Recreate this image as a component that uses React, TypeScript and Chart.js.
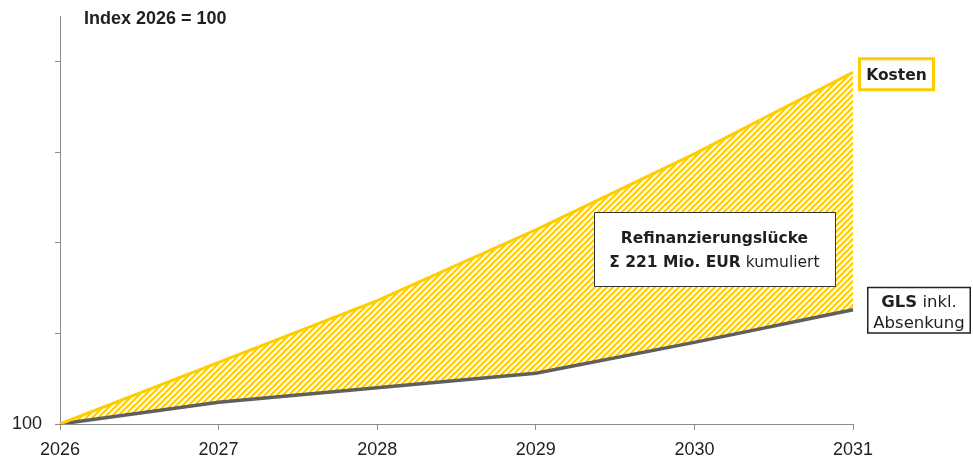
import React, { useEffect, useRef } from 'react';
import { Chart, registerables } from 'chart.js';

Chart.register(...registerables);

const years = ['2026', '2027', '2028', '2029', '2030', '2031'];
const kosten = [100, 103.4, 106.8, 110.7, 114.9, 119.4];
const gls = [100, 101.2, 102.0, 102.8, 104.5, 106.3];
const yMin = 100;
const yMax = 122.5;
const yStep = 5;
const yLabelValues = [100];
const titleText = 'Index 2026 = 100';
const kostenLabel = 'Kosten';
const glsLabelBold = 'GLS';
const glsLabelRest = ' inkl.';
const glsLabelLine2 = 'Absenkung';
const gapLine1 = 'Refinanzierungslücke';
const gapLine2Bold = 'Σ 221 Mio. EUR';
const gapLine2Rest = ' kumuliert';

const YELLOW = '#FFCC00';
const GRAY_LINE = '#5f5f5f';
const AXIS = '#8c8c8c';
const TEXT = '#1f1f1f';
const BOX_FONT = '"DejaVu Sans", "Noto Sans", sans-serif';

function makePattern(): CanvasPattern | string {
  const s = 6;
  const c = document.createElement('canvas');
  c.width = s;
  c.height = s;
  const g = c.getContext('2d');
  if (!g) return YELLOW;
  g.strokeStyle = YELLOW;
  g.lineWidth = 2.2;
  g.beginPath();
  g.moveTo(0, s);
  g.lineTo(s, 0);
  g.moveTo(-s / 2, s / 2);
  g.lineTo(s / 2, -s / 2);
  g.moveTo(s / 2, s + s / 2);
  g.lineTo(s + s / 2, s / 2);
  g.stroke();
  const p = g.createPattern(c, 'repeat');
  return p || YELLOW;
}

const annotations = {
  id: 'annotations',
  afterDraw(chart: any) {
    const { ctx, chartArea, scales } = chart;
    const x = scales.x;
    const y = scales.y;
    const last = years.length - 1;
    const xe = x.getPixelForValue(last);
    const yk = y.getPixelForValue(kosten[last]);
    const yg = y.getPixelForValue(gls[last]);
    ctx.save();

    // title
    ctx.fillStyle = TEXT;
    ctx.font = 'bold 18px "Liberation Sans", Arial, sans-serif';
    ctx.textAlign = 'left';
    ctx.textBaseline = 'alphabetic';
    ctx.fillText(titleText, chartArea.left + 24, chartArea.top + 8);

    // Kosten box
    {
      const l = xe + 5, t = yk - 15, w = 77, h = 34;
      ctx.strokeStyle = YELLOW;
      ctx.lineWidth = 3;
      ctx.fillStyle = '#ffffff';
      ctx.beginPath();
      ctx.rect(l + 1.5, t + 1.5, w - 3, h - 3);
      ctx.fill();
      ctx.stroke();
      ctx.fillStyle = TEXT;
      ctx.font = `bold 15.5px ${BOX_FONT}`;
      ctx.textAlign = 'center';
      ctx.fillText(kostenLabel, l + w / 2, t + 23);
    }

    // GLS box
    {
      const l = xe + 14, t = yg - 23, w = 104, h = 47;
      ctx.strokeStyle = '#222222';
      ctx.lineWidth = 1.5;
      ctx.fillStyle = '#ffffff';
      ctx.beginPath();
      ctx.rect(l + 0.75, t + 0.75, w - 1.5, h - 1.5);
      ctx.fill();
      ctx.stroke();
      ctx.fillStyle = TEXT;
      ctx.textAlign = 'left';
      ctx.font = `bold 16.5px ${BOX_FONT}`;
      const wb = ctx.measureText(glsLabelBold).width;
      ctx.font = `16.5px ${BOX_FONT}`;
      const wr = ctx.measureText(glsLabelRest).width;
      const cx = l + w / 2;
      const sx = cx - (wb + wr) / 2;
      ctx.font = `bold 16.5px ${BOX_FONT}`;
      ctx.fillText(glsLabelBold, sx, t + 20);
      ctx.font = `16.5px ${BOX_FONT}`;
      ctx.fillText(glsLabelRest, sx + wb, t + 20);
      ctx.textAlign = 'center';
      ctx.fillText(glsLabelLine2, cx, t + 41);
    }

    // gap box
    {
      const cxv = x.getPixelForValue(4) + 20;
      const cyv = (y.getPixelForValue(kosten[4]) + y.getPixelForValue(gls[4])) / 2 + 1;
      const w = 241, h = 74;
      const l = cxv - w / 2, t = cyv - h / 2;
      ctx.strokeStyle = '#333333';
      ctx.lineWidth = 1;
      ctx.fillStyle = '#ffffff';
      ctx.beginPath();
      ctx.rect(Math.round(l) + 0.5, Math.round(t) + 0.5, w, h);
      ctx.fill();
      ctx.stroke();
      ctx.fillStyle = TEXT;
      ctx.textAlign = 'center';
      ctx.font = `bold 15.5px ${BOX_FONT}`;
      ctx.fillText(gapLine1, cxv, t + 31);
      ctx.textAlign = 'left';
      const wb = ctx.measureText(gapLine2Bold).width;
      ctx.font = `15.5px ${BOX_FONT}`;
      const wr = ctx.measureText(gapLine2Rest).width;
      const sx = cxv - (wb + wr) / 2;
      ctx.font = `bold 15.5px ${BOX_FONT}`;
      ctx.fillText(gapLine2Bold, sx, t + 55);
      ctx.font = `15.5px ${BOX_FONT}`;
      ctx.fillText(gapLine2Rest, sx + wb, t + 55);
    }
    ctx.restore();
  },
};

export default function App() {
  const ref = useRef<HTMLCanvasElement | null>(null);
  useEffect(() => {
    if (!ref.current) return;
    const pattern = makePattern();
    const chart = new Chart(ref.current, {
      type: 'line',
      data: {
        labels: years,
        datasets: [
          {
            label: 'Kosten',
            data: kosten,
            borderColor: YELLOW,
            borderWidth: 3,
            backgroundColor: pattern as any,
            fill: '+1',
            pointRadius: 0,
            tension: 0,
          },
          {
            label: 'GLS',
            data: gls,
            borderColor: GRAY_LINE,
            borderWidth: 3.5,
            fill: false,
            pointRadius: 0,
            tension: 0,
          },
        ],
      },
      options: {
        animation: false,
        responsive: true,
        maintainAspectRatio: false,
        layout: { padding: { left: 0, right: 120, top: 16, bottom: 0 } },
        plugins: {
          legend: { display: false },
          tooltip: { enabled: false },
          title: { display: false },
          filler: { drawTime: 'beforeDatasetsDraw' },
        },
        scales: {
          x: {
            type: 'category',
            offset: false,
            grid: { drawOnChartArea: false, drawTicks: true, tickLength: 6, color: AXIS },
            border: { color: AXIS, width: 1 },
            ticks: {
              color: TEXT,
              padding: 9,
              maxRotation: 0,
              font: { family: '"Liberation Sans", Arial, sans-serif', size: 18 },
            },
            afterFit: (s: any) => {
              s.height = 34;
              s.paddingLeft = 0;
              s.paddingRight = 0;
            },
          },
          y: {
            type: 'linear',
            min: yMin,
            max: yMax,
            grid: { drawOnChartArea: false, drawTicks: true, tickLength: 5, color: AXIS },
            border: { color: AXIS, width: 1 },
            ticks: {
              stepSize: yStep,
              includeBounds: false,
              color: TEXT,
              padding: 13,
              font: { family: '"Liberation Sans", Arial, sans-serif', size: 18 },
              callback: (v: any) => (yLabelValues.includes(Number(v)) ? String(v) : ''),
            },
            afterFit: (s: any) => {
              s.width = 60;
              s.paddingTop = 0;
              s.paddingBottom = 0;
            },
          },
        },
      },
      plugins: [annotations],
    });
    return () => chart.destroy();
  }, []);
  return (
    <div style={{ position: 'fixed', left: 0, top: 0, width: 973, height: 458 }}>
      <canvas ref={ref} />
    </div>
  );
}
